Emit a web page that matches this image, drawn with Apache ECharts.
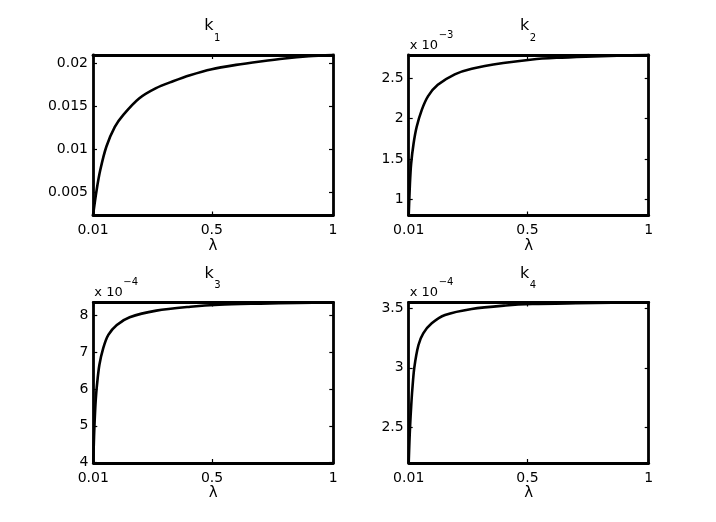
<!DOCTYPE html>
<html>
<head>
<meta charset="utf-8">
<title>k1 - k4 vs lambda</title>
<script src="https://cdn.jsdelivr.net/npm/echarts@6/dist/echarts.min.js"></script>
<style>
  html, body { margin: 0; padding: 0; background: #fff; }
  #main { width: 716px; height: 522px; }
</style>
</head>
<body>
<div id="main"></div>
<script>
// data (k2 in units of 1e-3, k3 and k4 in units of 1e-4)
var lam1 = [0.01, 0.025, 0.04, 0.065, 0.1, 0.135, 0.2, 0.27, 0.34, 0.41, 0.5, 0.6, 0.7, 0.8, 0.9, 1];
var k1 = [0.00232, 0.00528, 0.0076, 0.0103, 0.0126, 0.0140, 0.0159, 0.0171, 0.0179, 0.0186, 0.0193, 0.0198, 0.0202, 0.02055, 0.0208, 0.02095];

var lam2 = [0.01, 0.015, 0.02, 0.03, 0.043, 0.064, 0.09, 0.13, 0.2, 0.27, 0.4, 0.52, 0.62, 0.74, 0.87, 1];
var k2 = [0.80, 1.19, 1.44, 1.69, 1.90, 2.11, 2.28, 2.42, 2.55, 2.62, 2.69, 2.735, 2.755, 2.77, 2.782, 2.79];

var lam3 = [0.01, 0.013, 0.016, 0.02, 0.025, 0.035, 0.051, 0.072, 0.107, 0.16, 0.27, 0.41, 0.53, 0.7, 0.85, 1];
var k3 = [3.99, 4.7, 5.2, 5.7, 6.1, 6.65, 7.11, 7.47, 7.74, 7.95, 8.13, 8.235, 8.29, 8.32, 8.34, 8.35];

var lam4 = [0.01, 0.013, 0.016, 0.02, 0.025, 0.033, 0.05, 0.07, 0.105, 0.16, 0.27, 0.41, 0.52, 0.7, 0.85, 1];
var k4 = [2.2, 2.38, 2.52, 2.67, 2.82, 3.0, 3.19, 3.29, 3.374, 3.444, 3.495, 3.524, 3.536, 3.543, 3.547, 3.549];

var xTicks = [0.01, 0.5, 1];
var yTicks1 = [0.005, 0.01, 0.015, 0.02];
var yTicks2 = [1, 1.5, 2, 2.5];
var yTicks3 = [4, 5, 6, 7, 8];
var yTicks4 = [2.5, 3, 3.5];

var titles = ['1', '2', '3', '4'];
var exponents = ['', '−3', '−4', '−4'];

var myChart = echarts.init(document.getElementById('main'));

var FONT = '"DejaVu Sans", sans-serif';
var grids = [
	{left: 93, top: 55, width: 240, height: 160.5},
	{left: 408.7, top: 55, width: 240, height: 160.5},
	{left: 93.3, top: 302.5, width: 240, height: 160.5},
	{left: 408.7, top: 302.5, width: 240, height: 160.5}
];
var panels = [
	{lam: lam1, k: k1, yTicks: yTicks1, min: 0.00232, max: 0.02095},
	{lam: lam2, k: k2, yTicks: yTicks2, min: 0.80, max: 2.79},
	{lam: lam3, k: k3, yTicks: yTicks3, min: 3.99, max: 8.35},
	{lam: lam4, k: k4, yTicks: yTicks4, min: 2.2, max: 3.549}
];

var boxLine = {show: true, lineStyle: {color: '#000', width: 2.8}};
function ticks(vals) {
	return {show: true, inside: true, length: 4, customValues: vals, lineStyle: {color: '#000', width: 1.2}};
}
function labels(vals, margin) {
	return {show: true, customValues: vals, margin: margin, color: '#000', fontFamily: FONT, fontSize: 14,
		formatter: function (v) { return String(v); }};
}

var xAxes = [], yAxes = [], series = [], graphics = [];
panels.forEach(function (p, i) {
	xAxes.push({
		gridIndex: i, type: 'value', min: 0.01, max: 1, position: 'bottom',
		axisLine: boxLine, axisTick: ticks(xTicks), axisLabel: labels(xTicks, 8), splitLine: {show: false},
		name: 'λ', nameLocation: 'middle', nameGap: 20,
		nameTextStyle: {color: '#000', fontFamily: FONT, fontSize: 15}
	});
	yAxes.push({
		gridIndex: i, type: 'value', min: p.min, max: p.max, position: 'left',
		axisLine: boxLine, axisTick: ticks(p.yTicks), axisLabel: labels(p.yTicks, 5), splitLine: {show: false}
	});
	series.push({
		type: 'line', xAxisIndex: i, yAxisIndex: i, showSymbol: false, smooth: 0.3,
		clip: false, lineStyle: {color: '#000', width: 2.6},
		data: p.lam.map(function (x, j) { return [x, p.k[j]]; })
	});
});
// mirrored box sides (top / right) with inward ticks, no labels
panels.forEach(function (p, i) {
	xAxes.push({
		gridIndex: i, type: 'value', min: 0.01, max: 1, position: 'top',
		axisLine: boxLine, axisTick: ticks(xTicks), axisLabel: {show: false}, splitLine: {show: false}
	});
	yAxes.push({
		gridIndex: i, type: 'value', min: p.min, max: p.max, position: 'right',
		axisLine: boxLine, axisTick: ticks(p.yTicks), axisLabel: {show: false}, splitLine: {show: false}
	});
});

// titles k_n and the "x 10^-n" multipliers
grids.forEach(function (g, i) {
	var cx = g.left + g.width / 2;
	graphics.push({type: 'text', x: cx + 0.5, y: g.top - 37,
		style: {text: 'k', font: '16px ' + FONT, fill: '#000', align: 'right', verticalAlign: 'top'}});
	graphics.push({type: 'text', x: cx + 1, y: g.top - 21.8,
		style: {text: titles[i], font: '10px ' + FONT, fill: '#000', align: 'left', verticalAlign: 'top'}});
	if (exponents[i]) {
		graphics.push({type: 'text', x: g.left + 1, y: g.top - 16.3,
			style: {text: 'x 10', font: '13px ' + FONT, fill: '#000', align: 'left', verticalAlign: 'top'}});
		graphics.push({type: 'text', x: g.left + 30, y: g.top - 25,
			style: {text: exponents[i], font: '10px ' + FONT, fill: '#000', align: 'left', verticalAlign: 'top'}});
	}
});

var option = {
	animation: false,
	backgroundColor: '#fff',
	grid: grids,
	xAxis: xAxes,
	yAxis: yAxes,
	series: series,
	graphic: graphics
};
myChart.setOption(option);
</script>
</body>
</html>
